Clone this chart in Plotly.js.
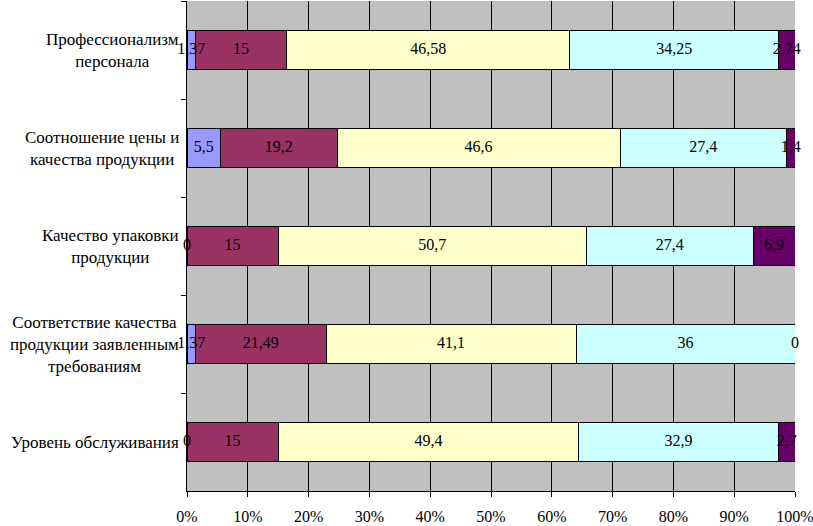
<!DOCTYPE html>
<html>
<head>
<meta charset="utf-8">
<script src="https://cdn.plot.ly/plotly-3.0.1.min.js"></script>
</head>
<body style="margin:0;background:#fff">
<div id="chart" style="width:813px;height:526px"></div>
<script>
var categories = [
  "Профессионализм<br>персонала",
  "Соотношение цены и<br>качества продукции",
  "Качество упаковки<br>продукции",
  "Соответствие качества<br>продукции заявленным<br>требованиям",
  "Уровень обслуживания"
];
var series1 = [1.37, 5.5, 0, 1.37, 0];
var series2 = [15, 19.2, 15, 21.49, 15];
var series3 = [46.58, 46.6, 50.7, 41.1, 49.4];
var series4 = [34.25, 27.4, 27.4, 36, 32.9];
var series5 = [2.74, 1.4, 6.9, 0, 2.7];
var tickVals = [0, 10, 20, 30, 40, 50, 60, 70, 80, 90, 100];
var tickText = ["0%", "10%", "20%", "30%", "40%", "50%", "60%", "70%", "80%", "90%", "100%"];

var colors = ["#9999FF", "#993366", "#FFFFCC", "#CCFFFF", "#660066"];
var allSeries = [series1, series2, series3, series4, series5];
var FAM = 'Times New Roman';

function fmt(v) { return String(v).replace('.', ','); }

var traces = allSeries.map(function (s, i) {
  return {
    type: 'bar',
    orientation: 'h',
    y: categories,
    x: s,
    marker: {color: colors[i], line: {color: '#000', width: 1}},
    hoverinfo: 'none',
    showlegend: false
  };
});

var totals = categories.map(function (c, j) {
  return allSeries.reduce(function (a, s) { return a + s[j]; }, 0);
});
var cum = categories.map(function () { return 0; });
allSeries.forEach(function (s) {
  var xs = s.map(function (v, j) {
    var mid = (cum[j] + v / 2) / totals[j] * 100;
    cum[j] += v;
    return mid;
  });
  traces.push({
    type: 'scatter', mode: 'text',
    x: xs, y: categories,
    text: s.map(fmt),
    textposition: 'middle center',
    textfont: {family: FAM, size: 16, color: '#000000'},
    cliponaxis: false,
    hoverinfo: 'none', showlegend: false
  });
});

var annotations = categories.map(function (c) {
  return {
    xref: 'paper', yref: 'y', x: -0.01, y: c,
    xanchor: 'right', yanchor: 'middle', align: 'center',
    text: c, showarrow: false,
    font: {family: FAM, size: 17, color: '#000000'}
  };
});

var layout = {
  width: 813, height: 526,
  margin: {l: 187, r: 18, t: 1, b: 35},
  paper_bgcolor: '#fff',
  plot_bgcolor: '#C0C0C0',
  barmode: 'stack',
  barnorm: 'percent',
  bargap: 0.6,
  xaxis: {
    range: [0, 100], tickvals: tickVals, ticktext: tickText,
    showgrid: true, gridcolor: '#000', gridwidth: 1,
    showline: true, linecolor: '#000', linewidth: 1,
    ticks: 'outside', ticklen: 5, tickcolor: '#000',
    ticklabelstandoff: 6, ticklabeloverflow: 'allow',
    zeroline: false, fixedrange: true,
    tickfont: {family: FAM, size: 16, color: '#000000'}
  },
  yaxis: {
    type: 'category', autorange: 'reversed',
    showticklabels: false, showgrid: false,
    showline: true, linecolor: '#000', linewidth: 1,
    ticks: 'outside', ticklen: 5, tickcolor: '#000',
    tickson: 'boundaries', zeroline: false, fixedrange: true
  },
  annotations: annotations
};

Plotly.newPlot('chart', traces, layout, {displayModeBar: false});
</script>
</body>
</html>
